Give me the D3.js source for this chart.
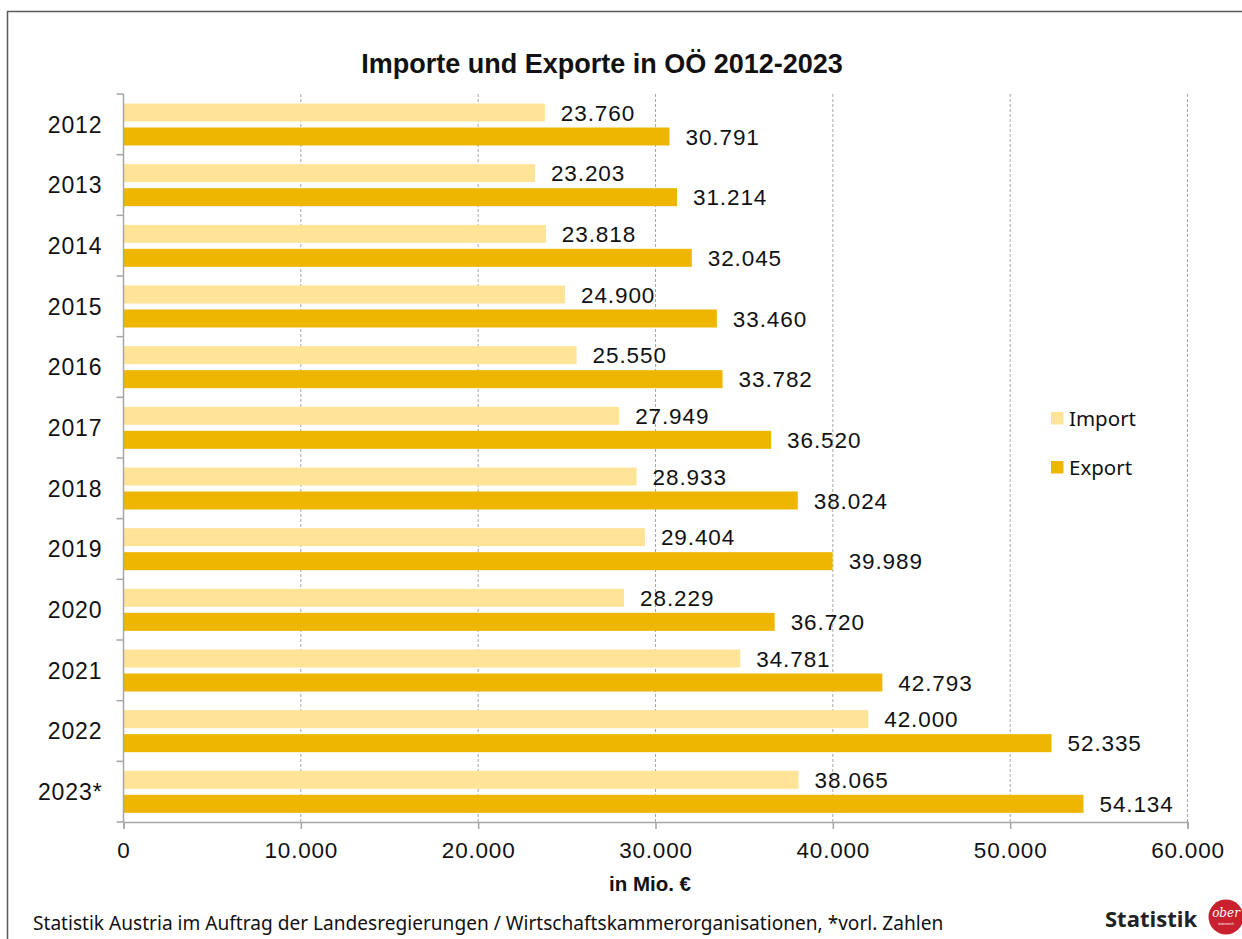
<!DOCTYPE html>
<html lang="de">
<head>
<meta charset="utf-8">
<title>Importe und Exporte in OÖ 2012-2023</title>
<script src="https://cdn.jsdelivr.net/npm/d3@7"></script>
<style>
  html, body { margin: 0; padding: 0; background: #fff; }
  svg { display: block; }
</style>
</head>
<body>
<svg id="chart" width="1242" height="939"></svg>
<script>
// Jahre (2023 vorläufig)
const years = ["2012", "2013", "2014", "2015", "2016", "2017", "2018", "2019", "2020", "2021", "2022", "2023*"];
// Werte in Mio. €
const importValues = [23760, 23203, 23818, 24900, 25550, 27949, 28933, 29404, 28229, 34781, 42000, 38065];
const exportValues = [30791, 31214, 32045, 33460, 33782, 36520, 38024, 39989, 36720, 42793, 52335, 54134];
const seriesNames = ["Import", "Export"];
const xTicks = [0, 10000, 20000, 30000, 40000, 50000, 60000];

const colors = { Import: "#FFE397", Export: "#EEB600" };
const W = 1242, H = 939;
const svg = d3.select("#chart");

const de = d3.formatLocale({ decimal: ",", thousands: ".", grouping: [3], currency: ["", " €"] });
const fmt = de.format(",d");

const rows = years.map((y, i) => ({ year: y, Import: importValues[i], Export: exportValues[i] }));

// Rahmen
svg.append("rect")
  .attr("x", 7.5).attr("y", 11.5)
  .attr("width", W + 10).attr("height", H + 10)
  .attr("fill", "none").attr("stroke", "#5a5a5a").attr("stroke-width", 1.5);

// Titel
svg.append("text")
  .attr("x", 602).attr("y", 73)
  .attr("text-anchor", "middle")
  .attr("font-family", "Liberation Sans, Arial, sans-serif")
  .attr("font-weight", 700)
  .attr("font-size", 27)
  .attr("fill", "#111")
  .text("Importe und Exporte in OÖ 2012-2023");

// Skalen
const x = d3.scaleLinear().domain([0, 60000]).range([123.5, 1187.5]);
const y = d3.scaleBand().domain(years).range([94, 822]);
const inner = d3.scaleBand().domain(seriesNames).range([9.5, 51.5]).paddingInner(0.25);

// Gitterlinien (gestrichelt)
svg.append("g")
  .selectAll("line")
  .data(xTicks.filter(d => d > 0))
  .join("line")
  .attr("x1", d => x(d)).attr("x2", d => x(d))
  .attr("y1", 94).attr("y2", 822)
  .attr("stroke", "#a6a6a6")
  .attr("stroke-width", 1)
  .attr("stroke-dasharray", "3,2");

// Balken
const groups = svg.append("g")
  .selectAll("g")
  .data(rows)
  .join("g")
  .attr("transform", d => `translate(0,${y(d.year)})`);

groups.selectAll("rect")
  .data(d => seriesNames.map(s => ({ key: s, value: d[s] })))
  .join("rect")
  .attr("x", x(0))
  .attr("y", d => inner(d.key))
  .attr("width", d => x(d.value) - x(0))
  .attr("height", inner.bandwidth())
  .attr("fill", d => colors[d.key]);

// Wertbeschriftungen
groups.selectAll("text")
  .data(d => seriesNames.map(s => ({ key: s, value: d[s] })))
  .join("text")
  .attr("x", d => x(d.value) + 16)
  .attr("y", d => inner(d.key) + inner.bandwidth() / 2)
  .attr("dy", "0.36em")
  .attr("font-family", "Liberation Sans, Arial, sans-serif")
  .attr("font-size", 22.5)
  .attr("letter-spacing", 0.9)
  .attr("fill", "#111")
  .text(d => fmt(d.value));

// Y-Achse
const yAxisG = svg.append("g").attr("transform", `translate(${x(0)},0)`);
yAxisG.append("line")
  .attr("x1", 0).attr("x2", 0).attr("y1", 94).attr("y2", 822)
  .attr("stroke", "#a6a6a6").attr("stroke-width", 1.5);
yAxisG.selectAll("line.tick")
  .data(years.map(d => y(d)).concat([y.range()[1]]))
  .join("line")
  .attr("class", "tick")
  .attr("x1", -7).attr("x2", 0)
  .attr("y1", d => d).attr("y2", d => d)
  .attr("stroke", "#a6a6a6").attr("stroke-width", 1.5);
yAxisG.selectAll("text")
  .data(years)
  .join("text")
  .attr("x", -21)
  .attr("y", d => y(d) + y.bandwidth() / 2)
  .attr("dy", "0.36em")
  .attr("text-anchor", "end")
  .attr("font-family", "Liberation Sans, Arial, sans-serif")
  .attr("font-size", 23)
  .attr("letter-spacing", 0.9)
  .attr("fill", "#111")
  .text(d => d);

// X-Achse
const xAxis = d3.axisBottom(x)
  .tickValues(xTicks)
  .tickSize(7)
  .tickPadding(13)
  .tickFormat(d => fmt(d));
const xAxisG = svg.append("g").attr("transform", "translate(0,822)").call(xAxis);
xAxisG.select(".domain").attr("stroke", "#a6a6a6").attr("stroke-width", 1.5);
xAxisG.selectAll(".tick line").attr("stroke", "#a6a6a6").attr("stroke-width", 1.5);
xAxisG.selectAll(".tick text")
  .attr("font-family", "Liberation Sans, Arial, sans-serif")
  .attr("font-size", 22.5)
  .attr("letter-spacing", 0.8)
  .attr("fill", "#111");

// Achsentitel
svg.append("text")
  .attr("x", 650).attr("y", 891)
  .attr("text-anchor", "middle")
  .attr("font-family", "Liberation Sans, Arial, sans-serif")
  .attr("font-weight", 700)
  .attr("font-size", 20.5)
  .attr("fill", "#111")
  .text("in Mio. €");

// Legende
const legend = svg.append("g").attr("transform", "translate(1051,412)");
const li = legend.selectAll("g")
  .data(seriesNames)
  .join("g")
  .attr("transform", (d, i) => `translate(0,${i * 49})`);
li.append("rect")
  .attr("width", 12.5).attr("height", 12.5)
  .attr("fill", d => colors[d]);
li.append("text")
  .attr("x", 18).attr("y", 14)
  .attr("font-family", "Noto Sans, Open Sans, sans-serif")
  .attr("font-size", 20.5)
  .attr("fill", "#111")
  .text(d => d);

// Quelle
svg.append("text")
  .attr("x", 33).attr("y", 930)
  .attr("font-family", "Noto Sans, Open Sans, sans-serif")
  .attr("font-size", 19.1)
  .attr("fill", "#111")
  .text("Statistik Austria im Auftrag der Landesregierungen / Wirtschaftskammerorganisationen, *vorl. Zahlen");

// Logo
svg.append("text")
  .attr("x", 1105).attr("y", 927)
  .attr("font-family", "Open Sans, Noto Sans, sans-serif")
  .attr("font-weight", 700)
  .attr("font-size", 22)
  .attr("fill", "#222")
  .text("Statistik");
svg.append("circle")
  .attr("cx", 1226).attr("cy", 917).attr("r", 17.5)
  .attr("fill", "#C8202E");
svg.append("text")
  .attr("x", 1226).attr("y", 917)
  .attr("text-anchor", "middle")
  .attr("font-family", "DejaVu Serif, serif")
  .attr("font-style", "italic")
  .attr("font-size", 12)
  .attr("fill", "#fff")
  .text("ober");
svg.append("text")
  .attr("x", 1226).attr("y", 925)
  .attr("text-anchor", "middle")
  .attr("font-family", "Liberation Sans, Arial, sans-serif")
  .attr("font-size", 3.5)
  .attr("fill", "#fff")
  .text("österreich");
</script>
</body>
</html>
